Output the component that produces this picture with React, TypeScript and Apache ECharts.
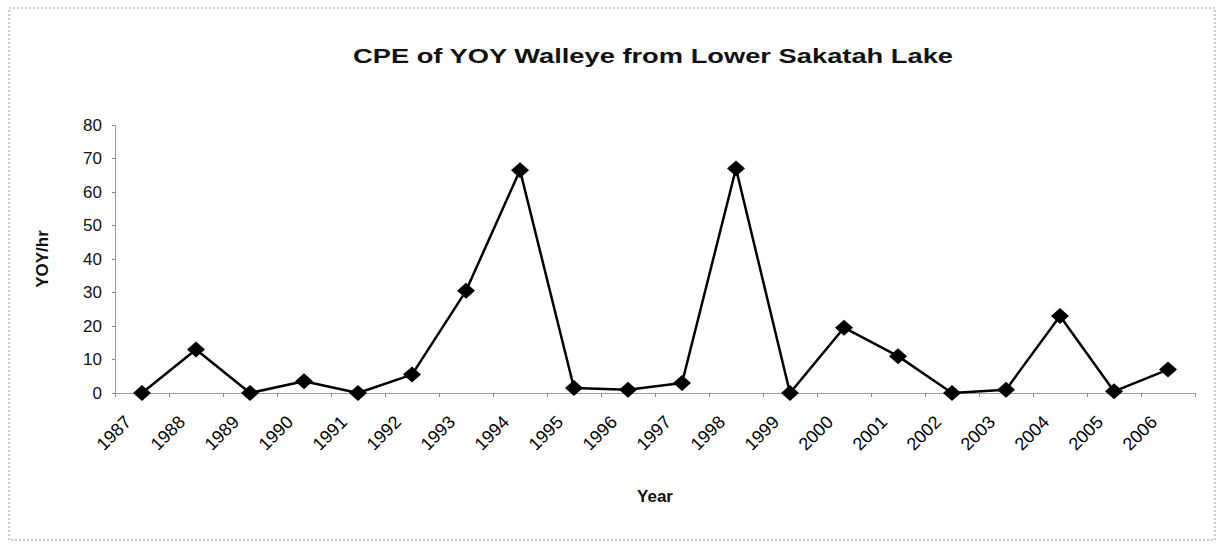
import React, { useEffect, useRef } from "react";
import * as echarts from "echarts";

const years = ["1987","1988","1989","1990","1991","1992","1993","1994","1995","1996","1997","1998","1999","2000","2001","2002","2003","2004","2005","2006"];
const cpe = [0, 13, 0, 3.5, 0, 5.5, 30.5, 66.5, 1.5, 1, 3, 67, 0, 19.5, 11, 0, 1, 23, 0.5, 7];
const yTicks = { min: 0, max: 80, interval: 10 };
const titleText = "CPE of YOY Walleye from Lower Sakatah Lake";

const FONT = "'Liberation Sans', Arial, sans-serif";

export default function App() {
  const ref = useRef<HTMLDivElement>(null);
  useEffect(() => {
    document.body.style.margin = "0";
    const chart = echarts.init(ref.current!, undefined, { renderer: "svg" });
    chart.setOption({
      animation: false,
      backgroundColor: "#ffffff",
      graphic: [
        {
          type: "rect",
          shape: { x: 9, y: 8, width: 1206, height: 532 },
          style: { fill: "none", stroke: "#999", lineWidth: 1, lineDash: [2, 2] },
          silent: true,
        },
        {
          type: "text",
          x: 653,
          y: 56,
          scaleX: 1.3,
          style: {
            text: titleText,
            fontFamily: FONT,
            fontSize: 21,
            fontWeight: "bold",
            fill: "#111",
            align: "center",
            verticalAlign: "middle",
          },
          silent: true,
        },
      ],
      grid: [
        { left: 115, right: 25, top: 125, bottom: 160, outerBoundsMode: "none", containLabel: false },
        { left: 101, right: 39, top: 125, bottom: 160, outerBoundsMode: "none", containLabel: false },
      ],
      xAxis: [
        {
          type: "category",
          gridIndex: 0,
          data: years,
          boundaryGap: true,
          name: "Year",
          nameLocation: "middle",
          nameGap: 95,
          nameTextStyle: { fontFamily: FONT, fontSize: 17, fontWeight: "bold", color: "#111" },
          axisLine: { lineStyle: { color: "#888", type: "dotted", width: 1 } },
          axisTick: { show: true, length: 4, lineStyle: { color: "#888" } },
          axisLabel: { show: false },
          splitLine: { show: false },
        },
        {
          type: "category",
          gridIndex: 1,
          data: years,
          boundaryGap: true,
          axisLine: { show: false },
          axisTick: { show: false },
          axisLabel: {
            show: true,
            rotate: 45,
            margin: 26,
            fontFamily: FONT,
            fontSize: 18,
            color: "#000",
            interval: 0,
          },
          splitLine: { show: false },
        },
      ],
      yAxis: [
        {
          type: "value",
          gridIndex: 0,
          min: yTicks.min,
          max: yTicks.max,
          interval: yTicks.interval,
          name: "YOY/hr",
          nameLocation: "middle",
          nameGap: 64,
          nameTextStyle: { fontFamily: FONT, fontSize: 17, fontWeight: "bold", color: "#111" },
          axisLine: { show: true, lineStyle: { color: "#888", type: "dotted", width: 1 } },
          axisTick: { show: true, length: 3, lineStyle: { color: "#888" } },
          axisLabel: { fontFamily: FONT, fontSize: 17, color: "#111", margin: 13 },
          splitLine: { show: false },
        },
        {
          type: "value",
          gridIndex: 1,
          min: yTicks.min,
          max: yTicks.max,
          interval: yTicks.interval,
          axisLine: { show: false },
          axisTick: { show: false },
          axisLabel: { show: false },
          splitLine: { show: false },
        },
      ],
      series: [
        {
          type: "line",
          xAxisIndex: 0,
          yAxisIndex: 0,
          data: cpe,
          symbol: "diamond",
          symbolSize: [18, 16],
          itemStyle: { color: "#000" },
          lineStyle: { color: "#000", width: 2.5 },
        },
        {
          type: "line",
          xAxisIndex: 1,
          yAxisIndex: 1,
          data: [],
          silent: true,
        },
      ],
    });
    return () => chart.dispose();
  }, []);
  return <div ref={ref} style={{ width: 1220, height: 553 }} />;
}
